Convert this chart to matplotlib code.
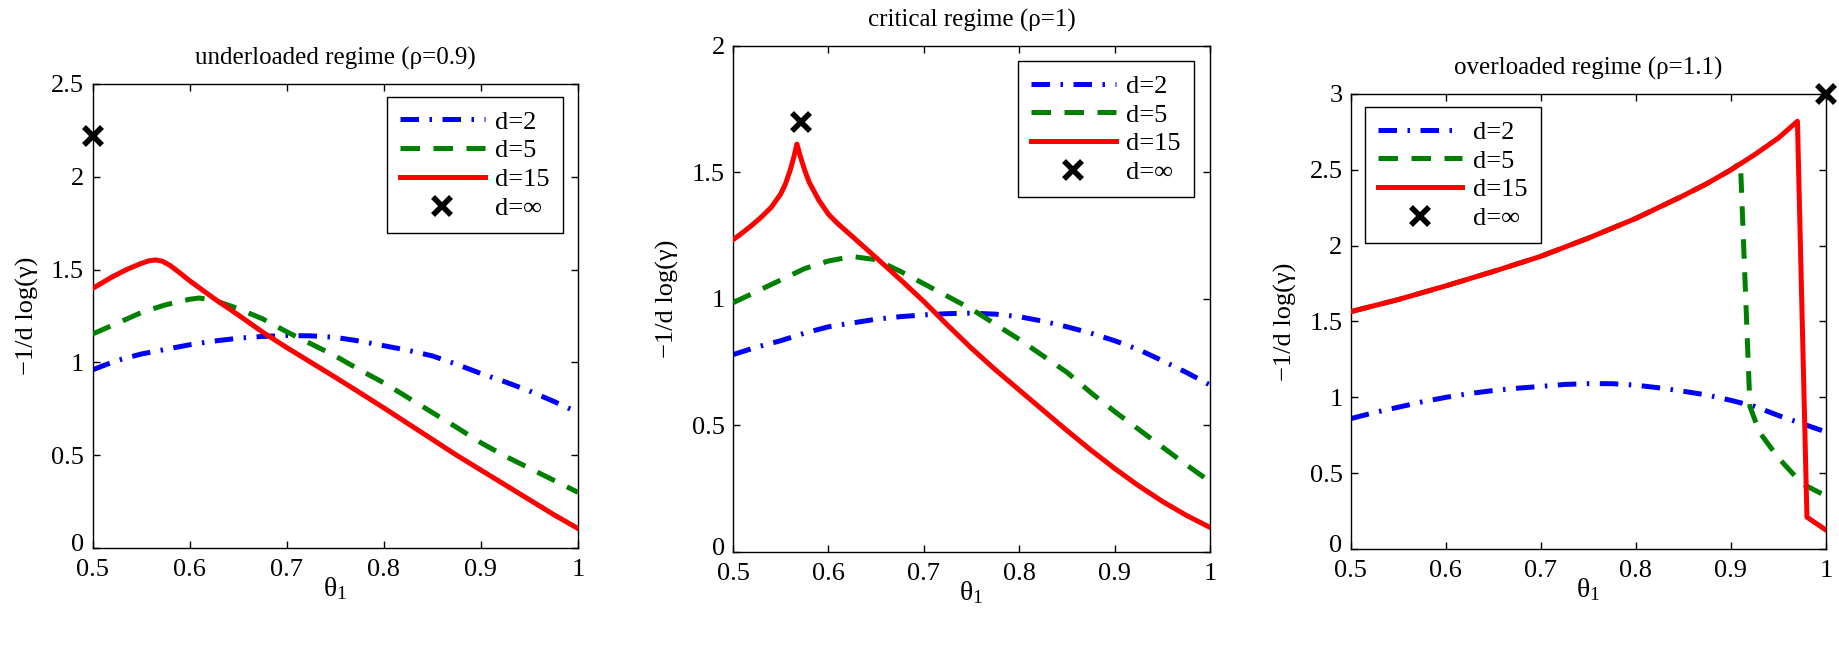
import matplotlib
matplotlib.use('Agg')
import matplotlib.pyplot as plt
import matplotlib.transforms as mtransforms

plt.rcParams['font.family'] = ['Liberation Serif', 'DejaVu Serif']
plt.rcParams['mathtext.default'] = 'regular'
plt.rcParams['axes.unicode_minus'] = True

# ---------------- data ----------------
titles = ['underloaded regime (\u03c1=0.9)', 'critical regime (\u03c1=1)', 'overloaded regime (\u03c1=1.1)']
labels = ['d=2', 'd=5', 'd=15', 'd=\u221e']
xticks = [0.5, 0.6, 0.7, 0.8, 0.9, 1.0]
xticklabels = ['0.5', '0.6', '0.7', '0.8', '0.9', '1']

# panel 1 (rho = 0.9)
p1_x = [0.50, 0.525, 0.55, 0.575, 0.60, 0.625, 0.65, 0.675, 0.70, 0.725, 0.75,
        0.775, 0.80, 0.825, 0.85, 0.875, 0.90, 0.925, 0.95, 0.975, 1.00]
p1_d2 = [0.96, 1.01, 1.045, 1.07, 1.095, 1.115, 1.13, 1.14, 1.145, 1.143, 1.135,
         1.115, 1.09, 1.065, 1.035, 0.99, 0.94, 0.895, 0.846, 0.79, 0.73]
p1_x5 = [0.50, 0.525, 0.55, 0.575, 0.60, 0.61, 0.625, 0.65, 0.675, 0.70, 0.725, 0.75,
         0.775, 0.80, 0.825, 0.85, 0.875, 0.90, 0.925, 0.95, 0.975, 1.00]
p1_d5 = [1.153, 1.21, 1.268, 1.31, 1.34, 1.347, 1.335, 1.29, 1.235, 1.165, 1.10, 1.035,
         0.96, 0.89, 0.81, 0.73, 0.65, 0.567, 0.495, 0.43, 0.365, 0.30]
p1_x15 = [0.50, 0.52, 0.535, 0.55, 0.558, 0.565, 0.572, 0.58, 0.59, 0.60, 0.625, 0.65,
          0.675, 0.70, 0.725, 0.75, 0.775, 0.80, 0.825, 0.85, 0.875, 0.90, 0.925,
          0.95, 0.975, 1.00]
p1_d15 = [1.398, 1.46, 1.50, 1.533, 1.547, 1.552, 1.545, 1.522, 1.482, 1.44, 1.345, 1.256,
          1.164, 1.08, 1.0, 0.92, 0.838, 0.755, 0.67, 0.585, 0.5, 0.42, 0.34,
          0.26, 0.18, 0.105]
p1_inf = (0.5, 2.22)
p1_yticks = [0, 0.5, 1, 1.5, 2, 2.5]
p1_yticklabels = ['0', '0.5', '1', '1.5', '2', '2.5']

# panel 2 (rho = 1)
p2_x = [0.50, 0.525, 0.55, 0.575, 0.60, 0.625, 0.65, 0.675, 0.70, 0.725, 0.75,
        0.775, 0.80, 0.825, 0.85, 0.875, 0.90, 0.925, 0.95, 0.975, 1.00]
p2_d2 = [0.78, 0.81, 0.835, 0.865, 0.89, 0.905, 0.92, 0.93, 0.937, 0.942, 0.944,
         0.94, 0.93, 0.912, 0.89, 0.865, 0.835, 0.80, 0.756, 0.71, 0.66]
p2_d5 = [0.985, 1.03, 1.075, 1.12, 1.15, 1.168, 1.155, 1.11, 1.06, 1.01, 0.96,
         0.90, 0.84, 0.775, 0.71, 0.63, 0.555, 0.485, 0.415, 0.345, 0.278]
p2_x15 = [0.50, 0.51, 0.52, 0.53, 0.54, 0.55, 0.555, 0.56, 0.564, 0.567, 0.57, 0.575,
          0.58, 0.59, 0.60, 0.61, 0.625, 0.65, 0.675, 0.70, 0.725, 0.75, 0.775,
          0.80, 0.825, 0.85, 0.875, 0.90, 0.925, 0.95, 0.975, 1.00]
p2_d15 = [1.234, 1.262, 1.292, 1.325, 1.362, 1.415, 1.455, 1.51, 1.565, 1.612, 1.57, 1.51,
          1.46, 1.39, 1.335, 1.297, 1.247, 1.163, 1.078, 0.99, 0.896, 0.805, 0.72,
          0.64, 0.56, 0.48, 0.403, 0.33, 0.262, 0.20, 0.145, 0.097]
p2_inf = (0.571, 1.70)
p2_yticks = [0, 0.5, 1, 1.5, 2]
p2_yticklabels = ['0', '0.5', '1', '1.5', '2']

# panel 3 (rho = 1.1)
p3_x = [0.50, 0.525, 0.55, 0.575, 0.60, 0.625, 0.65, 0.675, 0.70, 0.725, 0.75,
        0.775, 0.80, 0.825, 0.85, 0.875, 0.90, 0.925, 0.95, 0.975, 1.00]
p3_d2 = [0.86, 0.90, 0.935, 0.97, 1.00, 1.025, 1.045, 1.06, 1.072, 1.085, 1.09,
         1.09, 1.08, 1.062, 1.04, 1.015, 0.98, 0.94, 0.88, 0.826, 0.772]
p3_x5 = [0.50, 0.55, 0.60, 0.65, 0.70, 0.75, 0.80, 0.85, 0.875, 0.90, 0.91,
         0.92, 0.93, 0.95, 0.975, 1.00]
p3_d5 = [1.565, 1.645, 1.735, 1.83, 1.93, 2.05, 2.18, 2.33, 2.41, 2.50, 2.545,
         0.94, 0.77, 0.60, 0.43, 0.35]
p3_x15 = [0.50, 0.55, 0.60, 0.65, 0.70, 0.75, 0.80, 0.85, 0.875, 0.90, 0.925,
          0.95, 0.97, 0.98, 1.00]
p3_d15 = [1.565, 1.645, 1.735, 1.83, 1.93, 2.05, 2.18, 2.33, 2.41, 2.50, 2.60,
          2.71, 2.82, 0.21, 0.125]
p3_inf = (1.0, 3.0)
p3_yticks = [0, 0.5, 1, 1.5, 2, 2.5, 3]
p3_yticklabels = ['0', '0.5', '1', '1.5', '2', '2.5', '3']

# ---------------- style ----------------
C_BLUE, C_GREEN, C_RED = '#0000ff', '#008000', '#ff0000'
LW = 3.6
FS = 19
FS_TITLE = 18
STY_D2 = (0, (3.7, 2.1, 0.5, 2.1))
STY_D5 = (0, (3.9, 2.7))

fig = plt.figure(figsize=(18.39, 6.49), dpi=100)
positions = [
    [0.0503, 0.1556, 0.2640, 0.7150],
    [0.3986, 0.1495, 0.2594, 0.7797],
    [0.7346, 0.1541, 0.2583, 0.7011],
]

panels = [
    (p1_x, p1_d2, p1_x5, p1_d5, p1_x15, p1_d15, p1_inf, p1_yticks, p1_yticklabels,
     dict(loc='upper right', bbox_to_anchor=(0.969, 0.972))),
    (p2_x, p2_d2, p2_x, p2_d5, p2_x15, p2_d15, p2_inf, p2_yticks, p2_yticklabels,
     dict(loc='upper right', bbox_to_anchor=(0.966, 0.970))),
    (p3_x, p3_d2, p3_x5, p3_d5, p3_x15, p3_d15, p3_inf, p3_yticks, p3_yticklabels,
     dict(loc='upper left', bbox_to_anchor=(0.029, 0.971))),
]

for i, (pos, pan) in enumerate(zip(positions, panels)):
    xa, ya, xb, yb, xc, yc, inf, yt, ytl, legkw = pan
    ax = fig.add_axes(pos)
    l2, = ax.plot(xa, ya, color=C_BLUE, lw=LW, linestyle=STY_D2, dash_capstyle='butt', zorder=2)
    l5, = ax.plot(xb, yb, color=C_GREEN, lw=LW, linestyle=STY_D5, dash_capstyle='butt', zorder=3)
    l15, = ax.plot(xc, yc, color=C_RED, lw=LW, linestyle='-', zorder=4)
    lx, = ax.plot([inf[0]], [inf[1]], linestyle='none', marker='x', color='black',
                  markersize=13, markeredgewidth=4, clip_on=False, zorder=6)
    ax.set_xlim(0.5, 1.0)
    ax.set_ylim(yt[0], yt[-1])
    ax.set_xticks(xticks)
    ax.set_xticklabels(xticklabels)
    ax.set_yticks(yt)
    ax.set_yticklabels(ytl)
    ax.tick_params(direction='in', top=True, right=True, length=5, width=1,
                   labelsize=FS, pad=6, colors='black')
    ax.tick_params(axis='x', pad=8)
    # lift the lowest y tick label a little so it clears the x tick labels
    lab0 = ax.get_yticklabels()[0]
    lab0.set_transform(lab0.get_transform() +
                       mtransforms.ScaledTranslation(0, 4 / 72, fig.dpi_scale_trans))
    for s in ax.spines.values():
        s.set_linewidth(1.0)
    ax.set_title(titles[i], fontsize=FS_TITLE, pad=14)
    ax.set_xlabel(r'$\mathregular{\theta_1}$', fontsize=FS + 1, labelpad=-4)
    ax.set_ylabel('\u22121/d log(\u03b3)', fontsize=FS, labelpad=9)
    leg = ax.legend([l2, l5, l15, lx], labels, fontsize=FS, frameon=True, fancybox=False,
                    edgecolor='black', framealpha=1, borderaxespad=0, handlelength=3.2,
                    handletextpad=0.4, borderpad=0.5, labelspacing=0.2, **legkw)
    leg.get_frame().set_linewidth(1.0)

fig.savefig('out.png', dpi=100)
